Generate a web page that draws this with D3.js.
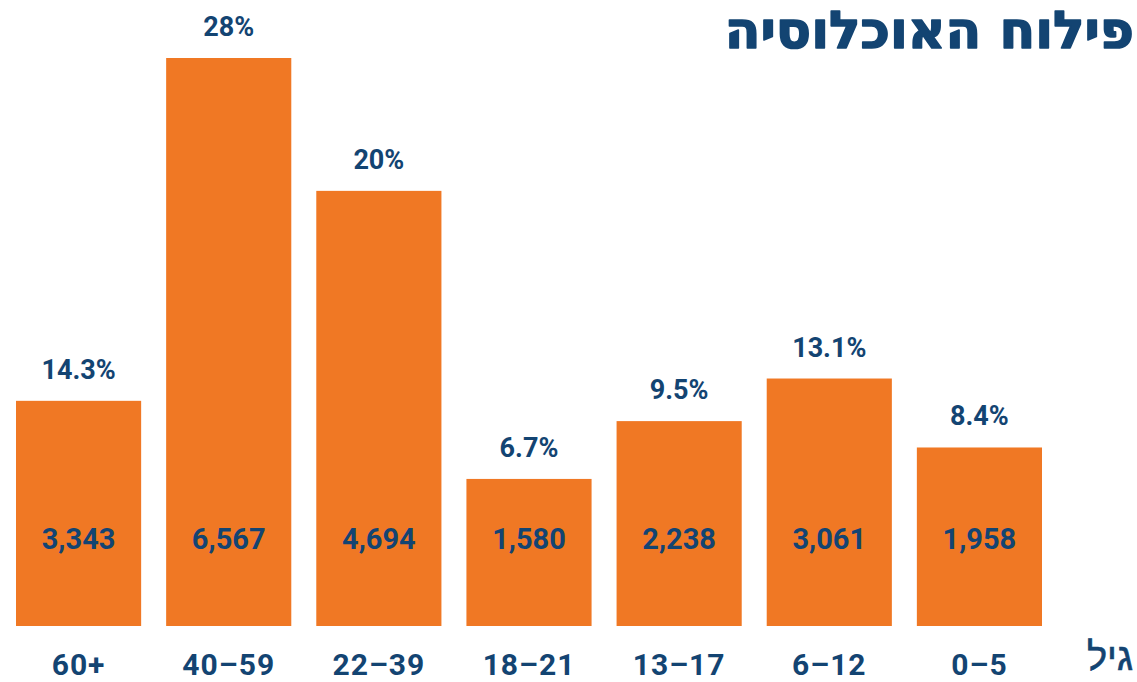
<!DOCTYPE html>
<html>
<head>
<meta charset="utf-8">
<script src="https://cdn.jsdelivr.net/npm/d3@7"></script>
<style>
  html, body { margin: 0; padding: 0; background: #ffffff; }
  svg { display: block; }
</style>
</head>
<body>
<svg id="chart" width="1137" height="682"></svg>
<script>
// ---- data ----
const categories = ["60+", "40–59", "22–39", "18–21", "13–17", "6–12", "0–5"];
const counts = [3343, 6567, 4694, 1580, 2238, 3061, 1958];
const percentLabels = ["14.3%", "28%", "20%", "6.7%", "9.5%", "13.1%", "8.4%"];
// plotted bar lengths (in % units of the drawing)
const barHeights = [11.1, 28, 21.45, 7.25, 10.1, 12.2, 8.8];
const titleText = "פילוח האוכלוסיה";
const axisLabel = "גיל";

// ---- drawing ----
const W = 1137, H = 682;
const orange = "#F07824";
const blue = "#134472";
const baseY = 626;

const svg = d3.select("#chart");

const x = d3.scaleBand()
  .domain(categories)
  .range([16, 1042])
  .paddingInner(0.1665)
  .paddingOuter(0);

const y = d3.scaleLinear()
  .domain([0, 28])
  .range([baseY, 58]);

const data = categories.map((c, i) => ({
  cat: c, count: counts[i], pct: percentLabels[i], h: barHeights[i]
}));

// bars
svg.append("g").selectAll("rect")
  .data(data).join("rect")
  .attr("x", d => x(d.cat))
  .attr("y", d => y(d.h))
  .attr("width", x.bandwidth())
  .attr("height", d => baseY - y(d.h))
  .attr("fill", orange);

// percent labels above bars
svg.append("g").selectAll("text")
  .data(data).join("text")
  .attr("x", d => x(d.cat) + x.bandwidth() / 2)
  .attr("y", d => y(d.h) - 22)
  .attr("text-anchor", "middle")
  .attr("fill", blue)
  .style("font-family", "Roboto, 'DejaVu Sans', sans-serif")
  .style("font-weight", "700")
  .style("font-size", "27px")
  .text(d => d.pct);

// count labels inside bars
const fmt = d3.format(",");
svg.append("g").selectAll("text")
  .data(data).join("text")
  .attr("x", d => x(d.cat) + x.bandwidth() / 2)
  .attr("y", 549)
  .attr("text-anchor", "middle")
  .attr("fill", blue)
  .style("font-family", "Roboto, 'DejaVu Sans', sans-serif")
  .style("font-weight", "700")
  .style("font-size", "29px")
  .text(d => fmt(d.count));

// category axis (no line, no ticks)
const xAxis = d3.axisBottom(x).tickSize(0).tickPadding(0);
const gx = svg.append("g")
  .attr("transform", `translate(0, ${baseY})`)
  .call(xAxis);
gx.select(".domain").remove();
gx.selectAll("text")
  .attr("y", 49)
  .attr("dy", null)
  .attr("fill", blue)
  .style("font-family", "Roboto, 'DejaVu Sans', sans-serif")
  .style("font-weight", "700")
  .style("font-size", "30px")
  .style("letter-spacing", "1px");

// axis label
svg.append("text")
  .attr("x", 1133)
  .attr("y", 670)
  .attr("text-anchor", "start")
  .attr("direction", "rtl")
  .attr("fill", blue)
  .attr("stroke", blue)
  .attr("stroke-width", 0.6)
  .style("font-family", "'Liberation Sans', 'DejaVu Sans', sans-serif")
  .style("font-size", "38px")
  .text(axisLabel);

// title
svg.append("text")
  .attr("x", 1134)
  .attr("y", 48)
  .attr("text-anchor", "start")
  .attr("direction", "rtl")
  .attr("fill", blue)
  .attr("stroke", blue)
  .attr("stroke-width", 1.6)
  .attr("stroke-linejoin", "round")
  .style("font-family", "'DejaVu Sans', 'Liberation Sans', sans-serif")
  .style("font-weight", "700")
  .style("font-size", "52px")
  .text(titleText);
</script>
</body>
</html>
